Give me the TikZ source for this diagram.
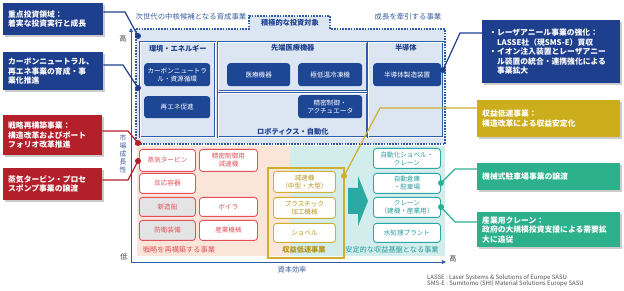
\documentclass[tikz,border=0pt]{standalone}
\usepackage{fontspec}
\setmainfont{Noto Sans CJK JP}
\usepackage{xcolor}
\usepackage{tikz}
\usetikzlibrary{arrows.meta,positioning,shadows}
\definecolor{navy}{HTML}{1E3F8E}
\definecolor{btnblue}{HTML}{1D4695}
\definecolor{lblue}{HTML}{DCE6F2}
\definecolor{frameblue}{HTML}{2F5BAA}
\definecolor{txtblue}{HTML}{3A5C9E}
\definecolor{cred}{HTML}{B4202A}
\definecolor{bred}{HTML}{E2525C}
\definecolor{peach}{HTML}{FBE4D8}
\definecolor{cgold}{HTML}{CCAD1B}
\definecolor{bgold}{HTML}{D1AE2C}
\definecolor{tgold}{HTML}{B8961A}
\definecolor{cteal}{HTML}{2DB08C}
\definecolor{bteal}{HTML}{2AA6A6}
\definecolor{tealbg}{HTML}{D3ECEC}
\definecolor{tteal}{HTML}{279C9C}
\definecolor{tealarr}{HTML}{2AAAA2}
\definecolor{boxgray}{HTML}{E4E4E4}
\newcommand{\fsz}[2]{\fontsize{#1}{#2}\selectfont}

\begin{document}
\begin{tikzpicture}[x=1pt, y=-1pt,
  callout/.style={rectangle, fill=#1, text=white, anchor=north west, align=left, inner sep=4pt, font=\fsz{7.8}{9.5}\bfseries, drop shadow={shadow xshift=1.5pt, shadow yshift=-1.5pt, fill=black!40}},
  panel/.style={rectangle, anchor=north west, draw=frameblue, double=white, double distance=0.7pt, line width=0.6pt, fill=lblue},
  hdr/.style={inner sep=1pt, font=\fsz{7.2}{8}\bfseries, text=navy},
  btn/.style={rectangle, rounded corners=3pt, anchor=north west, fill=btnblue, text=white, align=center, inner sep=1pt, font=\fsz{6.6}{8}},
  bx/.style={rectangle, rounded corners=3pt, anchor=north west, draw=#1, line width=0.9pt, fill=white, text=#1, align=center, inner sep=1pt, font=\fsz{6.6}{8}},
  lbl/.style={inner sep=1pt, font=\fsz{7.2}{8}},
  cline/.style={draw=#1, line width=1.2pt},
  axis/.style={draw=frameblue, line width=0.8pt, -{Triangle[length=4pt,width=4pt]}}
]
\useasboundingbox (0,0) rectangle (624,291);

\fill[lblue] (136,29) -- (249,29) -- (249,16) -- (330,16) -- (330,29) -- (445,29) -- (445,144) -- (136,144) -- cycle;
\draw[frameblue, line width=1.3pt, dash pattern=on 1.6pt off 1.2pt] (136,29) -- (249,29) -- (249,16) -- (330,16) -- (330,29) -- (445,29) -- (445,144) -- (136,144) -- cycle;
\fill[peach] (137,146) rectangle (290,256);
\fill[tealbg] (290,146) rectangle (445,256);

\node[lbl, text=txtblue, font=\fsz{7.4}{8}] (nxt) at (191,17) {次世代の中核候補となる育成事業};
\node[lbl, text=txtblue, font=\fsz{7.4}{8}] (grw) at (408,17) {成長を牽引する事業};
\node[hdr] (tab) at (290,23) {積極的な投資対象};

\node[panel, minimum width=75, minimum height=95] (env) at (140,42) {};
\node[panel, minimum width=149, minimum height=49] (med) at (218,42) {};
\node[panel, minimum width=149, minimum height=44] (rob) at (218,93) {};
\node[panel, minimum width=75, minimum height=95] (semi) at (368,42) {};
\node[hdr, below=1.5pt of env.north] (envh) {環境・エネルギー};
\node[hdr, below=1.5pt of med.north] (medh) {先端医療機器};
\node[hdr, below=1.5pt of semi.north] (semih) {半導体};
\node[hdr, above=1.5pt of rob.south] (robh) {ロボティクス・自動化};

\node[btn, minimum width=66, minimum height=23] (cn) at (144,63) {カーボンニュートラ\\ル・資源循環};
\node[btn, minimum width=66, minimum height=22] (ren) at (144,96) {再エネ促進};
\node[btn, minimum width=63, minimum height=23] (medd) at (227,63) {医療機器};
\node[btn, minimum width=64, minimum height=23] (cryo) at (298,63) {極低温冷凍機};
\node[btn, minimum width=64, minimum height=23] (prec) at (298,95) {精密制御・\\アクチュエータ};
\node[btn, minimum width=68, minimum height=23] (semid) at (373,63) {半導体製造装置};

\node[bx=bred, minimum width=56, minimum height=22] (steam) at (139,149) {蒸気タービン};
\node[bx=bred, minimum width=58, minimum height=22] (gear) at (199,149) {精密制御用\\減速機};
\node[bx=bred, minimum width=56, minimum height=20] (react) at (139,173) {反応容器};
\node[bx=bred, fill=boxgray, minimum width=56, minimum height=19] (ship) at (139,197) {新造船};
\node[bx=bred, minimum width=58, minimum height=19] (boil) at (199,197) {ボイラ};
\node[bx=bred, fill=boxgray, minimum width=56, minimum height=20] (def) at (139,220) {防衛装備};
\node[bx=bred, minimum width=58, minimum height=20] (ind) at (199,220) {産業機械};

\node[anchor=north west, draw=bgold, line width=1.6pt, minimum width=76, minimum height=90] (yfr) at (267,167) {};
\node[bx=bgold, text=tgold, minimum width=62, minimum height=21] (redu) at (273,171) {減速機\\（中型・大型）};
\node[bx=bgold, text=tgold, minimum width=62, minimum height=21] (plas) at (273,197) {プラスチック\\加工機械};
\node[bx=bgold, text=tgold, minimum width=62, minimum height=19] (shov) at (273,223) {ショベル};

\fill[tealarr] (348,188) -- (358,188) -- (358,176) -- (368,201) -- (358,226) -- (358,214) -- (348,214) -- cycle;

\node[bx=bteal, text=tteal, minimum width=67, minimum height=20] (ashov) at (373,148) {自動化ショベル・\\クレーン};
\node[bx=bteal, text=tteal, minimum width=67, minimum height=20] (apark) at (373,173) {自動倉庫\\・駐車場};
\node[bx=bteal, text=tteal, minimum width=67, minimum height=20] (crane) at (373,197) {クレーン\\（建機・産業用）};
\node[bx=bteal, text=tteal, minimum width=67, minimum height=19] (water) at (373,223) {水処理プラント};

\node[lbl, text=bred] (rlbl) at (179,250) {戦略を再構築する事業};
\node[lbl, text=tgold, font=\fsz{7.2}{8}\bfseries] (glbl) at (304,250) {収益低速事業};
\node[lbl, text=tteal] (tlbl) at (392,250) {安定的な収益基盤となる事業};

\coordinate (o) at (131,262);
\coordinate (ytop) at (131,28);
\coordinate (xend) at (446,262);
\draw[axis] (o) -- (ytop);
\draw[axis] (o) -- (xend);
\node[lbl, text=black!75] (yhi) at (123,39) {高};
\node[lbl, text=black!75] (ylo) at (124,257) {低};
\node[lbl, text=black!75] (xhi) at (453,259) {高};
\node[lbl, text=txtblue] (xlbl) at (292,270) {資本効率};
\node[lbl, text=txtblue, align=center, font=\fsz{6.8}{8}] (ylbl) at (123,154) {市\\場\\成\\長\\性};

\node[callout=navy, minimum width=100, minimum height=32, text width=90] (c1) at (3,3) {重点投資領域：\\着実な投資実行と成長};
\node[callout=navy, minimum width=100, minimum height=38, text width=90] (c2) at (3,52) {カーボンニュートラル、\\再エネ事業の育成・事\\業化推進};
\node[callout=cred, minimum width=99, minimum height=40, text width=89] (c3) at (3,115) {戦略再構築事業：\\構造改革およびポート\\フォリオ改革推進};
\node[callout=cred, minimum width=99, minimum height=32, text width=89] (c4) at (3,168) {蒸気タービン・プロセ\\スポンプ事業の譲渡};
\node[callout=navy, minimum width=138, minimum height=63, text width=124] (c5) at (482,20) {・レーザアニール事業の強化：\\　LASSE社（現SMS-E）買収\\・イオン注入装置とレーザアニー\\　ル装置の統合・連携強化による\\　事業拡大};
\node[callout=cgold, minimum width=143, minimum height=37, text width=133] (c6) at (477,100) {収益低速事業：\\構造改革による収益安定化};
\node[callout=cteal, minimum width=143, minimum height=27, text width=133] (c7) at (477,163) {機械式駐車場事業の譲渡};
\node[callout=cteal, minimum width=143, minimum height=35, text width=133] (c8) at (477,212) {産業用クレーン：\\政府の大規模投資支援による需要拡\\大に追従};

\coordinate (d1) at (138,36); \coordinate (e1) at (125,12);
\coordinate (d2) at (138,88); \coordinate (e2) at (123,65);
\coordinate (d3) at (138,143); \coordinate (e3) at (128,131);
\coordinate (d4) at (138,161); \coordinate (e4) at (128,180);
\coordinate (d5) at (443,70); \coordinate (e5) at (460,33);
\coordinate (d6) at (344,176); \coordinate (e6) at (380,108);
\coordinate (d7) at (441,183); \coordinate (e7) at (455,169);
\coordinate (d8) at (441,207); \coordinate (e8) at (455,222);
\draw[cline=navy] (c1.east |- e1) -- (e1) -- (d1);
\draw[cline=navy] (c2.east |- e2) -- (e2) -- (d2);
\draw[cline=cred] (c3.east |- e3) -- (e3) -- (d3);
\draw[cline=cred] (c4.east |- e4) -- (e4) -- (d4);
\draw[cline=navy] (d5) -- (e5) -- (c5.west |- e5);
\draw[cline=bgold] (d6) -- (e6) -- (c6.west |- e6);
\draw[cline=cteal] (d7) -- (e7) -- (c7.west |- e7);
\draw[cline=cteal] (d8) -- (e8) -- (c8.west |- e8);
\fill[navy] (d1) circle (3) (d2) circle (3) (d5) circle (3);
\fill[cred] (d3) circle (3) (d4) circle (3);
\fill[bgold] (d6) circle (3);
\fill[cteal] (d7) circle (3) (d8) circle (3);

\node[anchor=north west, align=left, inner sep=0pt, text=black!70, font=\fsz{6}{6.6}] (note) at (427,274) {LASSE : Laser Systems \& Solutions of Europe SASU\\SMS-E : Sumitomo (SHI) Material Solutions Europe SASU};
\end{tikzpicture}
\end{document}
